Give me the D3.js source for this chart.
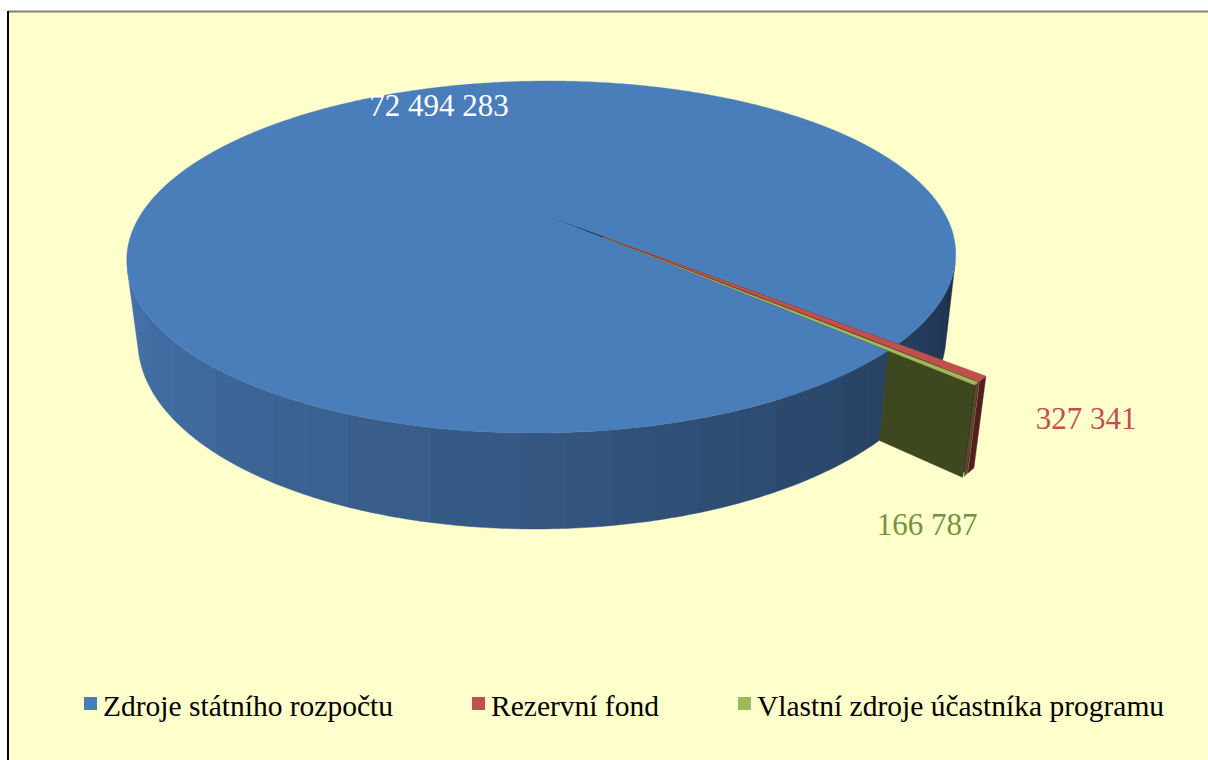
<!DOCTYPE html>
<html>
<head>
<meta charset="utf-8">
<script src="https://cdn.jsdelivr.net/npm/d3@7"></script>
<style>
  body { margin: 0; background: #fff; }
  svg { display: block; }
</style>
</head>
<body>
<div id="chart"></div>
<script>
// data
const categories = ["Zdroje státního rozpočtu", "Rezervní fond", "Vlastní zdroje účastníka programu"];
const values = [72494283, 327341, 166787];
const topColors = ["#4A7EBB", "#C0504D", "#9BBB59"];
const labelColors = ["#FFFFFF", "#C0504D", "#76923C"];
const exploded = [0, 0.2, 0.2];

const W = 1208, H = 760;
const FONT = "'Liberation Serif', 'Times New Roman', 'DejaVu Serif', serif";
const svg = d3.select("#chart").append("svg").attr("width", W).attr("height", H);
const defs = svg.append("defs");

// frame
svg.append("rect").attr("x", 8).attr("y", 11).attr("width", W - 8).attr("height", H - 11).attr("fill", "#FFFFCC");
svg.append("line").attr("x1", 8).attr("x2", W).attr("y1", 11.5).attr("y2", 11.5).attr("stroke", "#808078").attr("stroke-width", 2);
svg.append("line").attr("x1", 8).attr("x2", 8).attr("y1", 11).attr("y2", H).attr("stroke", "#000").attr("stroke-width", 2);

// simple perspective camera for the 3d pie (pie sits a bit left of the optical axis)
const phi = Math.asin(0.4118);
const cam = {f: 1499, D: 3.73, s: Math.sin(phi), c: Math.cos(phi), shift: -0.07};
cam.cx = 543 - cam.f * cam.shift / cam.D;
cam.cy = 214;
const h = 0.219;

function project(X, S, Z) {
  const depth = cam.D + S * cam.c - Z * cam.s;
  const up = S * cam.s + Z * cam.c;
  return [cam.cx + cam.f * (X + cam.shift) / depth, cam.cy - cam.f * up / depth];
}
function pt(a, r, z, off) {
  return project(off[0] + r * Math.sin(a), off[1] + r * Math.cos(a), z);
}
const line = d3.line();

const rad = Math.PI / 180;
const startDeg = 133.5;
const pie = d3.pie().sort(null).value(d => d)
  .startAngle(startDeg * rad).endAngle(startDeg * rad + 2 * Math.PI);
const arcs = pie(values).map((d, i) => {
  const mid = (d.startAngle + d.endAngle) / 2;
  const e = exploded[i];
  return {...d, i, off: [e * Math.sin(mid), e * Math.cos(mid)]};
});

const g = svg.append("g");

// camera position in pie coordinates (horizontal part)
const camX = -cam.shift, camS = -cam.D * cam.c;
function wallVisible(a, off) {
  const px = off[0] + Math.sin(a), ps = off[1] + Math.cos(a);
  return Math.sin(a) * (camX - px) + Math.cos(a) * (camS - ps) > 0;
}

// visible range of the blue side
const visDeg = d3.range(0, 360, 0.25).filter(d => wallVisible(d * rad, [0, 0]));
const loDeg = d3.min(visDeg), hiDeg = d3.max(visDeg);

// shaded side of the blue slice: faceted horizontal gradient
const wallDark = "#1D3049", wallLight = "#4572AA";
function wallColor(deg) {
  const t = Math.max(0, Math.min(1, (deg - loDeg) / (hiDeg - loDeg)));
  return d3.interpolateRgb(wallDark, wallLight)(Math.pow(t, 0.8));
}
const xAt = deg => pt(deg * rad, 1, -h / 2, [0, 0])[0];
const xL = xAt(hiDeg), xR = xAt(loDeg);
const grad = defs.append("linearGradient").attr("id", "wallGrad")
  .attr("gradientUnits", "userSpaceOnUse").attr("x1", xL).attr("x2", xR).attr("y1", 0).attr("y2", 0);
const band = 5;
let k = 0;
for (let deg = hiDeg; deg > loDeg; deg -= band, k++) {
  const d2 = Math.max(loDeg, deg - band);
  const col = wallColor((deg + d2) / 2 + (k % 2 ? 1.2 : -1.2));
  grad.append("stop").attr("offset", (xAt(deg) - xL) / (xR - xL)).attr("stop-color", col);
  grad.append("stop").attr("offset", (xAt(d2) - xL) / (xR - xL)).attr("stop-color", col);
}

function drawWall(d, a0, a1, fill) {
  const step = 0.5 * rad;
  const vis = [];
  for (let a = a0; a <= a1 + 1e-9; a += step) {
    const b = Math.min(a, a1);
    if (wallVisible(b, d.off)) vis.push(b);
  }
  if (vis.length < 2) {
    if (wallVisible((a0 + a1) / 2, d.off)) { vis.length = 0; vis.push(a0, a1); } else return;
  }
  const top = vis.map(a => pt(a, 1, 0, d.off));
  const bot = vis.slice().reverse().map(a => pt(a, 1, -h, d.off));
  g.append("path").attr("d", line(top.concat(bot)) + "Z")
    .attr("fill", fill).attr("stroke", fill).attr("stroke-width", 0.4);
}
function drawRadial(d, a, col) {
  g.append("path")
    .attr("d", line([pt(0, 0, 0, d.off), pt(a, 1, 0, d.off), pt(a, 1, -h, d.off), pt(0, 0, -h, d.off)]) + "Z")
    .attr("fill", col).attr("stroke", col).attr("stroke-width", 0.3);
}
function drawTop(d, col) {
  const pts = [pt(0, 0, 0, d.off)];
  const n = Math.max(2, Math.ceil((d.endAngle - d.startAngle) / (0.5 * rad)));
  for (let j = 0; j <= n; j++) {
    const a = d.startAngle + (d.endAngle - d.startAngle) * j / n;
    pts.push(pt(a, 1, 0, d.off));
  }
  g.append("path").attr("d", line(pts) + "Z").attr("fill", col).attr("stroke", col).attr("stroke-width", 0.4);
}

const [blue, red, green] = arcs;
const tailStart = 2 * Math.PI + (loDeg - 5) * rad;

// back part of the blue wall (behind the exploded slices)
drawWall(blue, Math.max(blue.startAngle, tailStart), blue.endAngle, "url(#wallGrad)");
drawRadial(blue, blue.endAngle, "#1F3350");

// red slice
drawWall(red, red.startAngle, red.endAngle, "#521E1F");
drawRadial(red, red.endAngle, "#5E2322");
drawTop(red, topColors[1]);

// green slice
drawWall(green, green.startAngle, green.endAngle, "#4A5626");
drawRadial(green, green.endAngle, "#3D4820");
drawTop(green, topColors[2]);

// front of the blue wall and its top
drawWall(blue, blue.startAngle, Math.min(blue.endAngle, tailStart), "url(#wallGrad)");
drawTop(blue, topColors[0]);

// data labels
const fmt = v => d3.format(",")(v).replace(/,/g, " ");
const labelPos = [[439, 116], [1086, 429], [927, 535]];
g.selectAll(".lbl").data(arcs).enter().append("text")
  .attr("class", "lbl")
  .attr("x", d => labelPos[d.i][0])
  .attr("y", d => labelPos[d.i][1])
  .attr("text-anchor", "middle")
  .attr("font-family", FONT)
  .attr("font-size", 31)
  .attr("fill", d => labelColors[d.i])
  .text(d => fmt(d.data));

// legend
const legend = svg.append("g");
let lx = 84;
categories.forEach((c, i) => {
  legend.append("rect").attr("x", lx).attr("y", 697).attr("width", 13).attr("height", 13).attr("fill", topColors[i]);
  const t = legend.append("text").attr("x", lx + 19).attr("y", 716)
    .attr("font-family", FONT).attr("font-size", 29.5).attr("fill", "#000").text(c);
  lx += 19 + t.node().getComputedTextLength() + 79;
});
</script>
</body>
</html>
